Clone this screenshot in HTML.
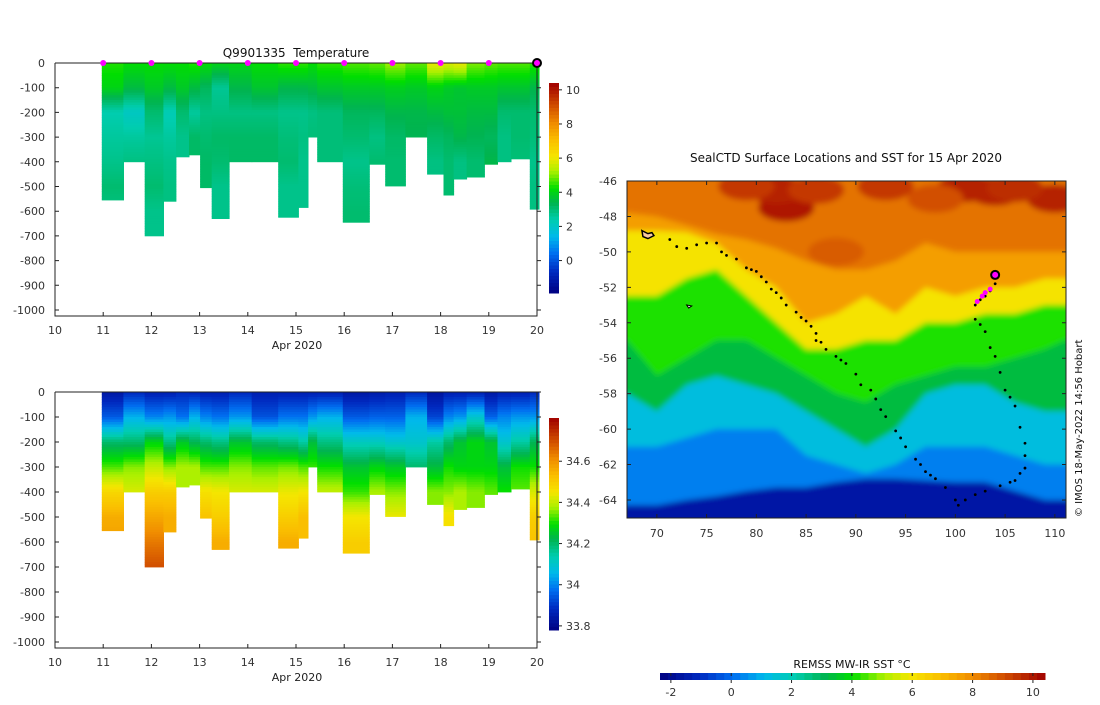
<!DOCTYPE html>
<html><head><meta charset="utf-8"><style>
body{margin:0;background:#fff;width:1100px;height:700px;overflow:hidden}
svg{font-family:"DejaVu Sans","Liberation Sans",sans-serif;font-size:11px;fill:#333}
</style></head><body>
<svg id="root" width="1100" height="700" viewBox="0 0 1100 700" xmlns="http://www.w3.org/2000/svg">
<defs>
<clipPath id="mapclip"><rect x="627" y="181" width="439" height="337"/></clipPath>
<filter id="blur" x="-5%" y="-5%" width="110%" height="110%"><feGaussianBlur stdDeviation="3"/></filter>
</defs>
<g id="top"></g>
<g id="bot"></g>
<g id="map"></g>
<text x="296" y="57" text-anchor="middle" font-size="12" fill="#111" xml:space="preserve">Q9901335  Temperature</text>
<text x="846" y="162" text-anchor="middle" font-size="12" fill="#111">SealCTD Surface Locations and SST for 15 Apr 2020</text>
<text x="852" y="668" text-anchor="middle" font-size="11" fill="#111">REMSS MW-IR SST °C</text>
<text transform="translate(1082,517) rotate(-90)" font-size="10" fill="#111">© IMOS 18-May-2022 14:56 Hobart</text>
</svg>
<script>
// ---- section data ----
const colStart=[10.97,11.42,11.86,12.25,12.51,12.78,13.01,13.25,13.61,14.08,14.63,15.05,15.25,15.44,15.97,16.52,16.85,17.27,17.72,18.06,18.27,18.54,18.91,19.18,19.46,19.85];
const colEnd=[11.42,11.86,12.25,12.51,12.78,13.01,13.25,13.61,14.08,14.63,15.05,15.25,15.44,15.97,16.52,16.85,17.27,17.72,18.06,18.27,18.54,18.91,19.18,19.46,19.85,20.04];
const colMaxDepth=[555,400,700,560,380,372,505,630,400,400,625,585,300,400,645,410,498,300,450,535,470,462,410,400,388,592];
const depthLevels=[0,100,200,300,400,500,600,700];
const tempProfiles=[
[4.2,3.8,2.1,2.3,2.5,2.8,2.6],[4.0,3.3,1.8,2.3,2.6],[4.0,3.6,2.8,2.4,2.6,2.8,2.5,2.5],[4.0,3.3,2.0,2.3,2.5,2.6],
[4.0,3.6,2.8,2.5],[4.2,3.3,2.3,2.9],[4.0,3.0,2.6,2.8,2.9,2.9],[3.8,2.4,2.6,2.9,2.8,2.5,2.5],
[3.8,3.2,2.6,2.9,2.9],[4.0,3.5,2.6,2.9,2.9],[4.3,3.2,2.5,2.7,2.8,2.5,2.5],[4.3,3.2,2.5,2.6,2.5,2.5],
[4.0,3.3,2.6,2.7],[4.3,3.5,2.7,2.7,2.7],[4.5,3.6,3.0,2.8,2.5,2.7,2.8],[4.6,3.6,3.0,2.6,2.8],
[5.0,3.7,3.2,2.9,2.8,2.8],[4.6,3.6,3.2,3.1],[5.8,3.8,3.3,2.9,2.6],[5.6,3.6,3.4,3.0,2.8,2.8],
[5.8,3.5,3.4,3.2,2.6],[4.8,3.6,3.3,3.1,2.8],[4.6,3.6,3.3,3.0,3.2],[4.5,3.5,2.8,2.6,2.6],
[4.5,3.5,2.8,2.8,2.7],[4.3,3.2,2.8,2.7,2.5,2.6,2.6]];
const salProfiles=[
[33.84,33.95,34.2,34.33,34.48,34.56,34.58],[33.88,34.05,34.2,34.36,34.42],[33.86,34.0,34.28,34.4,34.5,34.57,34.64,34.7],[33.86,34.02,34.18,34.36,34.5,34.56],
[33.88,33.98,34.26,34.38],[33.87,34.05,34.22,34.38],[33.86,34.0,34.2,34.33,34.46,34.52],[33.86,33.98,34.18,34.33,34.45,34.5,34.56],
[33.88,34.02,34.25,34.36,34.42],[33.86,33.94,34.2,34.34,34.42],[33.86,33.98,34.18,34.35,34.44,34.5,34.56],[33.86,33.98,34.15,34.33,34.45,34.53],
[33.86,34.02,34.24,34.32],[33.86,34.05,34.18,34.3,34.4],[33.84,33.95,34.12,34.25,34.32,34.45,34.5],[33.85,33.96,34.12,34.28,34.38],
[33.86,33.96,34.1,34.26,34.36,34.44],[33.88,34.05,34.1,34.2],[33.83,33.92,34.15,34.24,34.36],[33.86,34.0,34.2,34.3,34.36,34.46],
[33.86,34.02,34.25,34.28,34.38],[33.86,34.1,34.28,34.28,34.36],[33.84,33.96,34.25,34.28,34.34],[33.86,34.0,34.1,34.24,34.3],
[33.86,34.02,34.15,34.3,34.34],[33.88,34.02,34.22,34.3,34.42,34.5,34.52]];
const profileDays=[11,12,13,14,15,16,17,18,19];
const dayTicks=[10,11,12,13,14,15,16,17,18,19,20];
const depthTicks=[0,-100,-200,-300,-400,-500,-600,-700,-800,-900,-1000];
const tempCbTicks=[0,2,4,6,8,10];
const salCbTicks=["33.8","34","34.2","34.4","34.6"];
// ---- map data ----
const isoColors=[7.6,6,4.2,3.3,1.3,0.3,-1.6];
const isoLons=[67,70,73,76,79,82,85,88,91,94,97,100,103,106,109,111];
const isoLats=[
[-47.8,-48,-48.5,-49,-49.3,-49.8,-50.5,-51,-51,-50.5,-49.5,-50,-50,-50,-50,-50],
[-48.8,-48.8,-48.9,-49.5,-51,-52,-54,-53.5,-52.5,-53.5,-52,-52.5,-52,-52,-51.5,-51.5],
[-52.5,-52.5,-51.5,-51,-52.5,-54,-55.5,-55.5,-55,-55,-54,-54,-53.5,-53.5,-53,-53],
[-55,-57,-56,-55,-55,-56,-57,-58,-58.5,-57.5,-57,-56.5,-56.5,-56,-55.5,-55],
[-58,-59,-57.5,-57,-57.5,-58,-59,-60,-61,-60,-58,-57.5,-57.5,-58.5,-59,-59],
[-61,-61,-60.5,-60,-60,-60,-61.5,-62,-62.5,-62,-61,-61,-61,-61.5,-62,-62],
[-64.3,-64.3,-64,-63.8,-63.5,-63.3,-63.3,-63,-62.8,-62.8,-62.9,-63,-63,-63.5,-64,-64]];
const hotLon=[83,88,82,101,104,110,79,93,86,106,98];
const hotLat=[-47.5,-50,-46.5,-46.4,-46.6,-47,-46.3,-46.3,-46.5,-46.4,-47];
const hotVal=[10,8.8,9.8,9.8,9.8,9.8,9.4,9.4,9.4,9.6,9];
const trackLon=[71.3,72,73,74,75,76,76.5,77,78,79,79.5,80,80.5,81,81.5,82,82.5,83,84,84.5,85,85.5,86,86,86.5,87,88,88.5,89,90,90.5,91.5,92,92.5,93,94,94.5,95,96,96.5,97,97.5,98,99,100,100.3,101,102,103,104.5,105.5,106,106.5,107,107,107,106.5,106,105.5,105,104.5,104,103.5,103,102.5,102,102,102.5,103,103.5,104];
const trackLat=[-49.3,-49.7,-49.8,-49.6,-49.5,-49.5,-50,-50.2,-50.4,-50.9,-51,-51.1,-51.4,-51.7,-52.1,-52.3,-52.6,-53,-53.4,-53.7,-53.9,-54.2,-54.6,-55,-55.1,-55.5,-55.9,-56.1,-56.3,-56.9,-57.5,-57.8,-58.3,-58.9,-59.3,-60.1,-60.5,-61,-61.7,-62,-62.4,-62.6,-62.8,-63.3,-64,-64.3,-64,-63.7,-63.5,-63.2,-63,-62.9,-62.5,-62.2,-61.5,-60.8,-59.9,-58.7,-58.2,-57.8,-56.8,-55.9,-55.4,-54.5,-54.1,-53.8,-53,-52.7,-52.5,-52.2,-51.8];
const magLon=[102.2,102.7,103,103.5];
const magLat=[-52.8,-52.5,-52.3,-52.1];
const lastLon=104, lastLat=-51.3;
const lonTicks=[70,75,80,85,90,95,100,105,110];
const latTicks=[-46,-48,-50,-52,-54,-56,-58,-60,-62,-64];
const sstTicks=[-2,0,2,4,6,8,10];

const NS="http://www.w3.org/2000/svg";
function mk(tag,attrs,parent){const e=document.createElementNS(NS,tag);for(const k in attrs)e.setAttribute(k,attrs[k]);parent.appendChild(e);return e;}
const stops=[[0,[0,0,128]],[0.1,[0,40,190]],[0.19,[0,110,240]],[0.27,[0,185,235]],[0.35,[0,205,175]],[0.43,[0,180,80]],[0.5,[0,222,0]],[0.58,[170,240,0]],[0.65,[245,230,0]],[0.73,[250,190,0]],[0.81,[240,140,0]],[0.89,[210,80,0]],[1,[160,0,0]]];
function cmap(t){t=Math.max(0,Math.min(1,t));for(let i=1;i<stops.length;i++){if(t<=stops[i][0]){const a=stops[i-1],b=stops[i];const f=(t-a[0])/(b[0]-a[0]);const c=a[1].map((v,j)=>Math.round(v+(b[1][j]-v)*f));return `rgb(${c[0]},${c[1]},${c[2]})`;}}return "rgb(160,0,0)";}
const tNorm=v=>(v+2.36)/(10.4+2.36);
const sNorm=v=>(v-33.78)/(34.81-33.78);
function interp(p,d){const i=Math.min(Math.floor(d/100),p.length-2);const f=(d-depthLevels[i])/100;return p[i]+(p[i+1]-p[i])*Math.max(0,Math.min(1,f));}

function section(g,y0,y1000,profiles,norm,cbTop,cbBot,cbMin,cbMax,cbTicks,cbVals,isTemp){
  const xS=d=>55+(d-10)*48.2, yS=z=>y0+(-z)*(y1000-y0)/1000;
  for(let c=0;c<colStart.length;c++){
    const p=profiles[c];
    for(let d=0;d<colMaxDepth[c];d+=10){
      const v=interp(p,d+5);
      const r=mk('rect',{x:xS(colStart[c]).toFixed(1),y:yS(-d).toFixed(1),width:(xS(colEnd[c])-xS(colStart[c])+0.5).toFixed(1),height:(Math.min(10,colMaxDepth[c]-d)*(y1000-y0)/1000+0.4).toFixed(1),fill:cmap(norm(v))},g);
      
      
    }
  }
  const fb=y1000+6;
  const ax=mk('path',{d:`M55,${y0}H537 M55,${y0}V${fb}H537V${y0}`,stroke:'#222',fill:'none','stroke-width':1},g);
  
  depthTicks.forEach(t=>{const y=yS(t);mk('path',{d:`M55,${y}h4M537,${y}h4`,stroke:'#222'},g);
    const tx=mk('text',{x:45,y:y+4,'text-anchor':'end'},g);tx.textContent=t;
    });
  dayTicks.forEach(t=>{const x=xS(t);mk('path',{d:`M${x},${fb}v-4`,stroke:'#222'},g);
    const tx=mk('text',{x:x,y:fb+18,'text-anchor':'middle'},g);tx.textContent=t;
    });
  const xl=mk('text',{x:297,y:fb+33,'text-anchor':'middle',fill:'#222'},g);xl.textContent='Apr 2020';
  
  const n=60;
  for(let i=0;i<n;i++){const r=mk('rect',{x:549,y:(cbBot-(i+1)*(cbBot-cbTop)/n).toFixed(1),width:10,height:((cbBot-cbTop)/n+0.5).toFixed(1),fill:cmap((i+0.5)/n)},g);
    }
  cbVals.forEach((v,i)=>{const y=cbBot-(v-cbMin)/(cbMax-cbMin)*(cbBot-cbTop);
    mk('path',{d:`M559,${y}h3`,stroke:'#222'},g);
    const tx=mk('text',{x:566,y:y+4},g);tx.textContent=cbTicks[i];
    });
  if(isTemp){
    profileDays.forEach(d=>{const c=mk('circle',{cx:xS(d),cy:y0,r:3,fill:'#f0f'},g);
      });
    const c=mk('circle',{cx:xS(20),cy:y0,r:4,fill:'#f0f',stroke:'#000','stroke-width':2},g);
    
  }
}
section(document.getElementById('top'),63,310,tempProfiles,tNorm,83,293,-1.9,10.4,tempCbTicks,tempCbTicks,true);
section(document.getElementById('bot'),392,642,salProfiles,sNorm,418,630,33.78,34.81,salCbTicks,salCbTicks.map(Number),false);

// map
const mg=document.getElementById('map');
const lx=l=>627+(l-67)*9.95, ly=l=>181+(-46-l)*17.72;
const inner=mk('g',{'clip-path':'url(#mapclip)'},mg);
const blurG=mk('g',{filter:'url(#blur)'},inner);
mk('rect',{x:600,y:160,width:500,height:400,fill:cmap(tNorm(8.4))},blurG);
hotLon.forEach((l,i)=>{const e=mk('ellipse',{cx:lx(l),cy:ly(hotLat[i]),rx:28,ry:14,fill:cmap(tNorm(hotVal[i]))},blurG);
  });
isoLats.forEach((lats,k)=>{let d=`M${lx(isoLons[0])-20},${ly(lats[0])}`;
  isoLons.forEach((l,i)=>{d+=`L${lx(l)},${ly(lats[i])}`});
  d+=`L${lx(111)+20},${ly(lats[lats.length-1])}L${lx(111)+20},560L${lx(67)-20},560Z`;
  const p=mk('path',{d:d,fill:cmap(tNorm(isoColors[k]))},blurG);
  });
mk('path',{d:`M${lx(68.5)},${ly(-48.8)}l6,3l4,-1l2,3l-6,3l-5,-2z`,fill:'#f6c9a0',stroke:'#000','stroke-width':1.5},inner);
mk('path',{d:`M${lx(73)},${ly(-53)}l5,1l-3,2z`,fill:'#fff',stroke:'#000'},inner);
trackLon.forEach((l,i)=>{const c=mk('circle',{cx:lx(l),cy:ly(trackLat[i]),r:1.4,fill:'#000'},inner);
  });
magLon.forEach((l,i)=>{const c=mk('circle',{cx:lx(l),cy:ly(magLat[i]),r:2.5,fill:'#f0f'},inner);
  });
const lc=mk('circle',{cx:lx(lastLon),cy:ly(lastLat),r:4,fill:'#f0f',stroke:'#000','stroke-width':2},inner);

const fr=mk('rect',{x:627,y:181,width:439,height:337,fill:'none',stroke:'#222'},mg);

latTicks.forEach(t=>{const y=ly(t);mk('path',{d:`M627,${y}h4M1066,${y}h-4`,stroke:'#222'},mg);
  const tx=mk('text',{x:617,y:y+4,'text-anchor':'end'},mg);tx.textContent=t;
  });
lonTicks.forEach(t=>{const x=lx(t);mk('path',{d:`M${x},518v-4M${x},181v4`,stroke:'#222'},mg);
  const tx=mk('text',{x:x,y:537,'text-anchor':'middle'},mg);tx.textContent=t;
  });
const cbx=v=>660+(v+2.36)/(10.4+2.36)*385;
for(let i=0;i<48;i++){const r=mk('rect',{x:(660+i*385/48).toFixed(1),y:673,width:(385/48+0.5).toFixed(1),height:7,fill:cmap((i+0.5)/48)},mg);
  }
sstTicks.forEach(t=>{const x=cbx(t);mk('path',{d:`M${x},673v3M${x},680v3`,stroke:'#222'},mg);
  const tx=mk('text',{x:x,y:696,'text-anchor':'middle'},mg);tx.textContent=t;
  });
</script>
</body></html>
